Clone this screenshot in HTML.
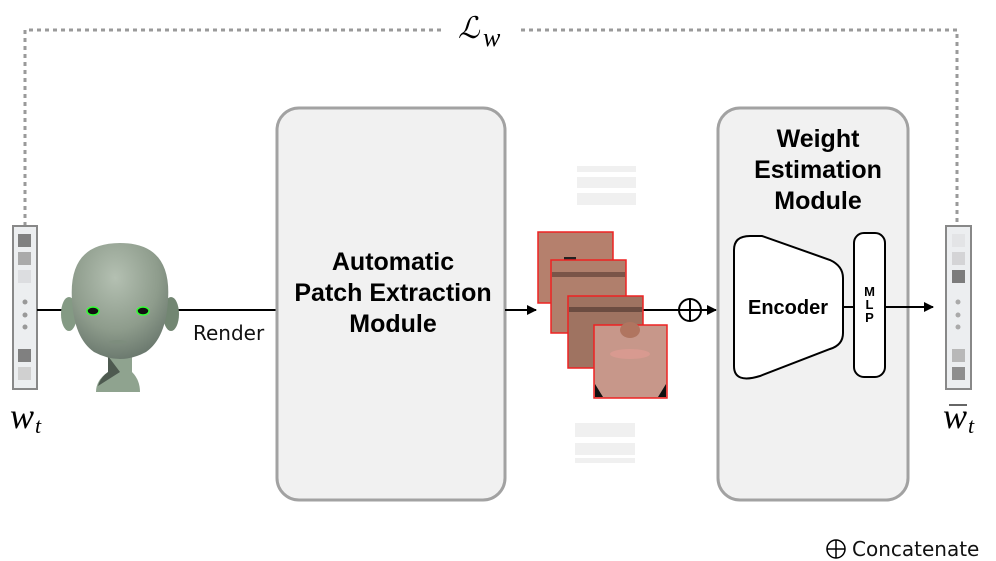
<!DOCTYPE html>
<html><head><meta charset="utf-8"><style>
html,body{margin:0;padding:0;background:#fff;}
svg{display:block;}
text{font-family:"Liberation Sans","DejaVu Sans",sans-serif;}
.m{font-family:"Liberation Serif",serif;font-style:italic;}
.dj{font-family:"DejaVu Sans",sans-serif;}
</style></head><body>
<svg width="996" height="561" viewBox="0 0 996 561" xmlns="http://www.w3.org/2000/svg">
<defs>
<marker id="ah" markerWidth="10" markerHeight="10" refX="9" refY="5" orient="auto" markerUnits="userSpaceOnUse">
<path d="M0,0 L10,5 L0,10 z" fill="#000"/></marker>
<radialGradient id="hg" cx="0.45" cy="0.3" r="0.75"><stop offset="0" stop-color="#b4c0b2"/><stop offset="0.6" stop-color="#8e9c8c"/><stop offset="1" stop-color="#66746a"/></radialGradient>
</defs>
<path d="M25,226 V30 H445 M521,30 H957 V226" fill="none" stroke="#9a9a9a" stroke-width="3" stroke-dasharray="4,4"/>
<text x="458" y="38" class="m" style="font-size:30px">ℒ</text>
<text x="483" y="46" class="m" style="font-size:26px">w</text>

<rect x="13" y="226" width="24" height="163" fill="#eceef0" stroke="#888" stroke-width="2"/>
<rect x="18" y="234" width="13" height="13" fill="#808080"/>
<rect x="18" y="252" width="13" height="13" fill="#aaa"/>
<rect x="18" y="270" width="13" height="13" fill="#dcdde0"/>
<circle cx="25" cy="302" r="2.5" fill="#999"/><circle cx="25" cy="315" r="2.5" fill="#999"/><circle cx="25" cy="327" r="2.5" fill="#999"/>
<rect x="18" y="349" width="13" height="13" fill="#808080"/>
<rect x="18" y="367" width="13" height="13" fill="#d0d0d0"/>
<text x="10" y="428" class="m" style="font-size:36px">w</text>
<text x="35" y="433" class="m" style="font-size:22px">t</text>

<line x1="37" y1="310" x2="277" y2="310" stroke="#000" stroke-width="2"/>
<path d="M108,352 L108,372 Q96,380 96,392 L140,392 Q140,380 132,372 L132,352 z" fill="#8fa38f"/>
<path d="M108,356 L108,372 Q100,378 98,386 L120,372 z" fill="#4e5a50"/>
<ellipse cx="69" cy="314" rx="8" ry="17" fill="#849a84"/>
<ellipse cx="171" cy="314" rx="8" ry="17" fill="#728672"/>
<path d="M72,300 Q68,243 120,243 Q172,243 168,300 Q166,338 146,352 Q120,366 94,352 Q74,338 72,300 z" fill="url(#hg)"/>
<ellipse cx="93" cy="311" rx="6" ry="4" fill="#111" stroke="#3f3" stroke-width="1.5"/>
<ellipse cx="143" cy="311" rx="6" ry="4" fill="#111" stroke="#3f3" stroke-width="1.5"/>
<ellipse cx="118" cy="342" rx="9" ry="2" fill="#7d8d7d"/>
<text x="193" y="340" class="dj" style="font-size:20px" fill="#111">Render</text>

<rect x="277" y="108" width="228" height="392" rx="22" fill="#f1f1f1" stroke="#a2a2a2" stroke-width="3"/>
<text x="393" y="270" font-size="25" font-weight="bold" text-anchor="middle">Automatic</text>
<text x="393" y="301" font-size="25" font-weight="bold" text-anchor="middle">Patch Extraction</text>
<text x="393" y="332" font-size="25" font-weight="bold" text-anchor="middle">Module</text>
<line x1="505" y1="310" x2="536" y2="310" stroke="#000" stroke-width="2" marker-end="url(#ah)"/>

<rect x="577" y="166" width="59" height="6" fill="#f0f0f0"/>
<rect x="577" y="177" width="59" height="11" fill="#f0f0f0"/>
<rect x="577" y="193" width="59" height="12" fill="#f0f0f0"/>
<rect x="575" y="423" width="60" height="14" fill="#f0f0f0"/>
<rect x="575" y="443" width="60" height="12" fill="#f0f0f0"/>
<rect x="575" y="458" width="60" height="5" fill="#f0f0f0"/>

<rect x="538" y="232" width="75" height="71" fill="#b5806d" stroke="#e22" stroke-width="1.5"/>
<rect x="564" y="257" width="12" height="5" fill="#222"/>
<rect x="551" y="260" width="75" height="73" fill="#b07f6c" stroke="#e22" stroke-width="1.5"/>
<rect x="552" y="272" width="73" height="5" fill="#6d4a40" opacity="0.8"/>
<line x1="643" y1="310" x2="716" y2="310" stroke="#000" stroke-width="2" marker-end="url(#ah)"/>
<rect x="568" y="296" width="75" height="72" fill="#9f7361" stroke="#e22" stroke-width="1.5"/>
<rect x="569" y="307" width="73" height="5" fill="#5f423a" opacity="0.8"/>
<rect x="594" y="325" width="73" height="73" fill="#c7978a" stroke="#e22" stroke-width="1.5"/>
<ellipse cx="630" cy="330" rx="10" ry="8" fill="#b07560"/>
<ellipse cx="630" cy="354" rx="20" ry="5" fill="#d89a90"/>
<path d="M595,384 L603,397 L595,397 z M666,384 L658,397 L666,397 z" fill="#111"/>
<circle cx="690" cy="310" r="11" fill="#fff" stroke="#000" stroke-width="2"/>
<line x1="679" y1="310" x2="701" y2="310" stroke="#000" stroke-width="2"/>
<line x1="690" y1="299" x2="690" y2="321" stroke="#000" stroke-width="2"/>

<rect x="718" y="108" width="190" height="392" rx="22" fill="#f1f1f1" stroke="#a2a2a2" stroke-width="3"/>
<text x="818" y="147" font-size="25" font-weight="bold" text-anchor="middle">Weight</text>
<text x="818" y="178" font-size="25" font-weight="bold" text-anchor="middle">Estimation</text>
<text x="818" y="209" font-size="25" font-weight="bold" text-anchor="middle">Module</text>
<path d="M734,250 Q734,236 750,236 L762,236 L830,260 Q843,266 843,278 L843,333 Q843,345 830,349 L760,376 Q734,384 734,366 z" fill="#fff" stroke="#000" stroke-width="2"/>
<text x="788" y="314" font-size="20" font-weight="bold" text-anchor="middle">Encoder</text>
<line x1="843" y1="307" x2="854" y2="307" stroke="#000" stroke-width="2"/>
<rect x="854" y="233" width="31" height="144" rx="10" fill="#fff" stroke="#000" stroke-width="2"/>
<text x="869.5" y="296" font-size="13" font-weight="bold" text-anchor="middle">M</text>
<text x="869.5" y="309" font-size="13" font-weight="bold" text-anchor="middle">L</text>
<text x="869.5" y="322" font-size="13" font-weight="bold" text-anchor="middle">P</text>
<line x1="885" y1="307" x2="933" y2="307" stroke="#000" stroke-width="2" marker-end="url(#ah)"/>

<rect x="946" y="226" width="25" height="163" fill="#eceef0" stroke="#888" stroke-width="2"/>
<rect x="952" y="234" width="13" height="13" fill="#e3e4e6"/>
<rect x="952" y="252" width="13" height="13" fill="#d4d4d6"/>
<rect x="952" y="270" width="13" height="13" fill="#7c7c7c"/>
<circle cx="958" cy="302" r="2.5" fill="#aaa"/><circle cx="958" cy="315" r="2.5" fill="#aaa"/><circle cx="958" cy="327" r="2.5" fill="#aaa"/>
<rect x="952" y="349" width="13" height="13" fill="#b8b8b8"/>
<rect x="952" y="367" width="13" height="13" fill="#8e8e8e"/>
<line x1="949" y1="405" x2="967" y2="405" stroke="#333" stroke-width="1.5"/>
<text x="943" y="428" class="m" style="font-size:36px">w</text>
<text x="968" y="433" class="m" style="font-size:22px">t</text>

<circle cx="836" cy="549" r="9" fill="none" stroke="#000" stroke-width="1.5"/>
<line x1="827" y1="549" x2="845" y2="549" stroke="#000" stroke-width="1.5"/>
<line x1="836" y1="540" x2="836" y2="558" stroke="#000" stroke-width="1.5"/>
<text x="852" y="556" class="dj" style="font-size:20px" fill="#111">Concatenate</text>
</svg>
</body></html>
